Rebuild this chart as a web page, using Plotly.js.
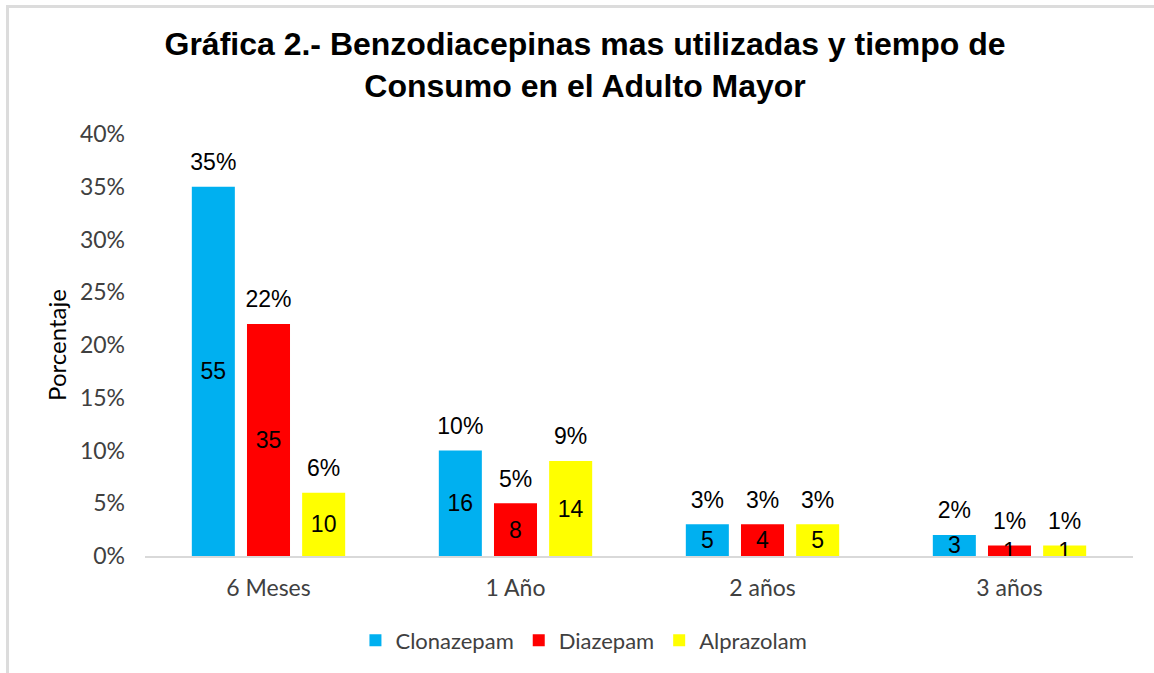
<!DOCTYPE html>
<html>
<head>
<meta charset="utf-8">
<script src="https://cdn.plot.ly/plotly-3.0.1.min.js"></script>
<style>
  html, body { margin: 0; padding: 0; background: #fff; }
  #wrap { position: relative; width: 1154px; height: 673px; }
  #chart { position: absolute; left: 0; top: 0; width: 1154px; height: 673px; }
  #frame { position: absolute; left: 6px; top: 5px; right: 0; bottom: 0;
           border-top: 3px solid #dcdcdc; border-left: 3px solid #dcdcdc; pointer-events: none; }
</style>
</head>
<body>
<div id="wrap">
  <div id="chart"></div>
  <div id="frame"></div>
</div>
<script>
const categories = ['6 Meses', '1 Año', '2 años', '3 años'];
const seriesNames = ['Clonazepam', 'Diazepam', 'Alprazolam'];
const clonazepamPct = [35, 10, 3, 2];
const diazepamPct   = [22, 5, 3, 1];
const alprazolamPct = [6, 9, 3, 1];
const clonazepamN = [55, 16, 5, 3];
const diazepamN   = [35, 8, 4, 1];
const alprazolamN = [10, 14, 5, 1];
const yTickVals = [0, 5, 10, 15, 20, 25, 30, 35, 40];

const pctSets = [clonazepamPct, diazepamPct, alprazolamPct];
const nSets = [clonazepamN, diazepamN, alprazolamN];
const colors = ['#00B0F0', '#FF0000', '#FFFF00'];

const GAP = 0.33;
const traces = [];
seriesNames.forEach((name, i) => {
  traces.push({
    type: 'bar',
    name: name,
    x: categories,
    y: pctSets[i],
    offsetgroup: String(i),
    marker: { color: colors[i] },
    text: nSets[i].map(String),
    textposition: 'inside',
    insidetextanchor: 'middle',
    textangle: 0,
    constraintext: 'none',
    insidetextfont: { family: 'Liberation Sans, Arial, sans-serif', size: 23, color: '#000' },
    hoverinfo: 'skip'
  });
});
seriesNames.forEach((name, i) => {
  traces.push({
    type: 'scatter',
    mode: 'markers+text',
    name: name + ' %',
    showlegend: false,
    x: categories,
    y: pctSets[i],
    offsetgroup: String(i),
    marker: { size: 16, color: 'rgba(0,0,0,0)' },
    text: pctSets[i].map(v => v + '%'),
    textposition: 'top center',
    textfont: { family: 'Liberation Sans, Arial, sans-serif', size: 23, color: '#000' },
    cliponaxis: false,
    hoverinfo: 'skip'
  });
});

const layout = {
  width: 1154,
  height: 673,
  paper_bgcolor: '#fff',
  plot_bgcolor: '#fff',
  margin: { l: 145, r: 21, t: 134, b: 117 },
  title: {
    text: '<b>Gráfica 2.- Benzodiacepinas mas utilizadas y tiempo de<br>Consumo en el Adulto Mayor</b>',
    font: { family: 'Liberation Sans, Arial, sans-serif', size: 32, color: '#000' },
    x: 0.507, xanchor: 'center',
    y: 0.918, yanchor: 'top', yref: 'container'
  },
  barmode: 'group',
  bargap: GAP,
  bargroupgap: 0.22,
  scattermode: 'group',
  scattergap: GAP,
  showlegend: true,
  legend: {
    orientation: 'h',
    x: 0.213, xanchor: 'left',
    y: -0.2, yanchor: 'middle',
    font: { family: 'Lato, sans-serif', size: 22, color: '#404040' },
    traceorder: 'normal'
  },
  xaxis: {
    type: 'category',
    showline: true,
    linecolor: '#d9d9d9',
    linewidth: 1.5,
    showgrid: false,
    zeroline: false,
    ticks: '',
    ticklabelstandoff: 11,
    tickfont: { family: 'Lato, sans-serif', size: 23, color: '#404040' }
  },
  yaxis: {
    range: [0, 40],
    tickvals: yTickVals,
    ticktext: yTickVals.map(v => v + '%'),
    showgrid: false,
    zeroline: false,
    showline: false,
    ticks: '',
    ticklabelstandoff: 19,
    tickfont: { family: 'Lato, sans-serif', size: 23, color: '#404040' },
    title: {
      text: 'Porcentaje',
      font: { family: 'Lato, sans-serif', size: 24, color: '#000' },
      standoff: 6
    }
  }
};

Plotly.newPlot('chart', traces, layout, { displayModeBar: false, staticPlot: true });
</script>
</body>
</html>
